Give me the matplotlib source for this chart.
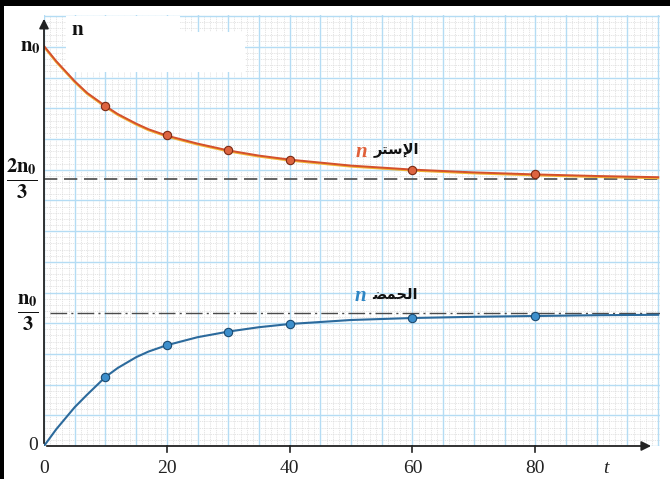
import numpy as np
import matplotlib
matplotlib.use("Agg")
import matplotlib.pyplot as plt
import matplotlib.transforms as mtransforms
from matplotlib.patches import Rectangle

plt.rcParams['mathtext.fontset'] = 'stix'

# curves (n in units of n0, t in minutes)
t_curve = [0, 2, 5, 7, 10, 12, 15, 17, 20, 25, 30, 35, 40, 50, 60, 70, 80, 90, 100]
ester_curve = [1.0, 0.962, 0.912, 0.883, 0.85, 0.830, 0.806, 0.792, 0.776, 0.756,
               0.739, 0.726, 0.716, 0.701, 0.691, 0.684, 0.679, 0.675, 0.672]
acid_curve = [0.0, 0.042, 0.097, 0.128, 0.1725, 0.195, 0.222, 0.236, 0.252, 0.272,
              0.286, 0.297, 0.305, 0.315, 0.320, 0.323, 0.325, 0.327, 0.328]

# measured points
t_pts = [10, 20, 30, 40, 60, 80]
ester_pts = [0.85, 0.777, 0.739, 0.716, 0.691, 0.679]
acid_pts = [0.1725, 0.252, 0.286, 0.305, 0.320, 0.325]

x_ticks = [0, 20, 40, 60, 80]
ester_limit = 2 / 3
acid_limit = 1 / 3

W, H = 670, 479
fig = plt.figure(figsize=(6.7, 4.79), dpi=100)
ax = fig.add_axes([44 / W, (H - 446) / H, (660 - 44) / W, (446 - 15) / H])
ax.set_xlim(0, 100.3)
ax.set_ylim(0, 1.0775)
for s in ax.spines.values():
    s.set_visible(False)
ax.set_xticks([])
ax.set_yticks([])

# graph paper
major_y = 5 * 6.14 / 400
for x in np.arange(0, 101, 1):
    if x % 5 == 0:
        ax.axvline(x, color='#b4dcf4', lw=1.0, zorder=1)
    else:
        ax.axvline(x, color='#d6d6d6', lw=0.45, ls=(0, (2, 1.5)), zorder=0.5)
for i, y in enumerate(np.arange(0, 1.08, major_y / 5)):
    if i % 5 == 0:
        ax.axhline(y, color='#b4dcf4', lw=1.0, zorder=1)
    else:
        ax.axhline(y, color='#d6d6d6', lw=0.45, ls=(0, (2, 1.5)), zorder=0.5)

# white patch at top
ax.add_patch(Rectangle((3.6, 0.935), 29.2, 0.06, transform=ax.transData,
                       facecolor='white', edgecolor='none', zorder=2))
ax.add_patch(Rectangle((3.6, 0.935), 18.5, 0.14, transform=ax.transData,
                       facecolor='white', edgecolor='none', zorder=2))
ax.add_patch(Rectangle((3.6, 0.99), 29.2, 0.045, transform=ax.transData,
                       facecolor='white', edgecolor='none', zorder=2))

# asymptotes
ax.axhline(ester_limit, color='#4a4a4a', lw=1.2, dashes=(8, 4), zorder=3)
ax.plot([1, 100.3], [acid_limit, acid_limit], color='#4a4a4a', lw=1.0,
        dashes=(12, 3, 1.5, 3), zorder=3)

# curves
shift = mtransforms.offset_copy(ax.transData, fig=fig, y=-0.9, units='dots')
ax.plot(t_curve, ester_curve, color='#f2b233', lw=1.6, transform=shift, zorder=4)
ax.plot(t_curve, ester_curve, color='#d4502c', lw=1.4, zorder=5)
ax.plot(t_curve, acid_curve, color='#2c6a9c', lw=1.5, zorder=5)
ax.plot(t_pts, ester_pts, 'o', ms=6, mfc='#dd6440', mec='#7a2a14', mew=0.8, zorder=6)
ax.plot(t_pts, acid_pts, 'o', ms=6, mfc='#3d8fcc', mec='#1b4a70', mew=0.8, zorder=6)

# axes with arrows
ax.annotate('', xy=(99.3, 0), xytext=(0, 0),
            arrowprops=dict(arrowstyle='-|>', color='#222', lw=1.3,
                            mutation_scale=14), zorder=7, annotation_clip=False)
ax.annotate('', xy=(0, 1.075), xytext=(0, 0),
            arrowprops=dict(arrowstyle='-|>', color='#222', lw=1.3,
                            mutation_scale=14), zorder=7, annotation_clip=False)
for x in x_ticks[1:]:
    ax.plot([x, x], [0, -0.015], color='#222', lw=1.2, clip_on=False, zorder=7)

# tick labels
serif = 'Liberation Serif'
for x in x_ticks:
    ax.text(x, -0.035, str(x), ha='center', va='top', fontsize=14,
            family=serif, color='#222')
ax.text(-0.9, 0, '0', ha='right', va='center', fontsize=14, family=serif, color='#222')
ax.text(91.5, -0.035, 't', ha='center', va='top', fontsize=14, family=serif,
        style='italic', color='#222')
ax.text(-0.5, 1.0, r'$\mathbf{n}_{\mathbf{0}}$', ha='right', va='center',
        fontsize=15, color='#111')
ax.text(-0.9, ester_limit, r'$\frac{\mathbf{2n_0}}{\mathbf{3}}$', ha='right',
        va='center', fontsize=21, color='#111')
ax.text(-0.9, acid_limit, r'$\frac{\mathbf{n_0}}{\mathbf{3}}$', ha='right',
        va='center', fontsize=21, color='#111')
ax.text(4.5, 1.04, 'n', ha='left', va='center', fontsize=15, family=serif,
        weight='bold', color='#111', zorder=8)

# curve labels
ax.text(50.8, 0.735, 'n', ha='left', va='center', fontsize=15, family=serif,
        weight='bold', style='italic', color='#e0603a', zorder=8)
ax.text(53.6, 0.74, '\ufeae\ufe98\ufeb3\ufef9\ufe8d', ha='left', va='center',
        fontsize=10.5, family='DejaVu Sans', weight='bold', color='#111', zorder=8)
ax.text(50.6, 0.375, 'n', ha='left', va='center', fontsize=15, family=serif,
        weight='bold', style='italic', color='#2f86c4', zorder=8)
ax.text(53.4, 0.378, '\ufec0\ufee4\ufea4\ufedf\ufe8d', ha='left', va='center',
        fontsize=10.5, family='DejaVu Sans', weight='bold', color='#111', zorder=8)

# black scan border
fig.add_artist(Rectangle((0, (H - 6) / H), 1, 6 / H, transform=fig.transFigure,
                         facecolor='black', edgecolor='none'))
fig.add_artist(Rectangle((0, 0), 4 / W, 1, transform=fig.transFigure,
                         facecolor='black', edgecolor='none'))

fig.savefig('out.png', dpi=100)
